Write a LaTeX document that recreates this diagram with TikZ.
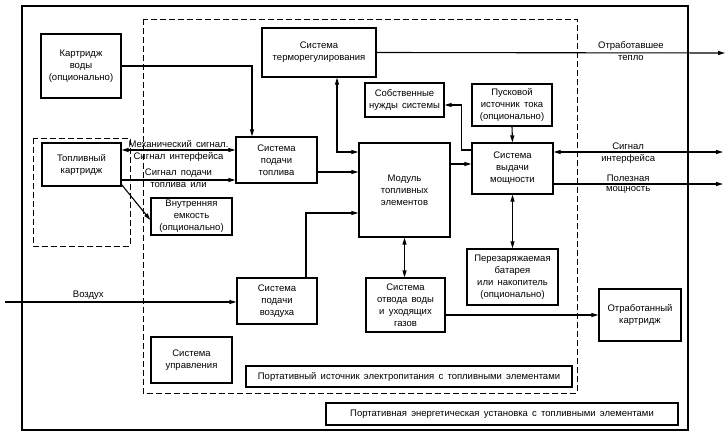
\documentclass[tikz,border=0pt]{standalone}
\usepackage{fontspec}
\setmainfont[WordSpace=1.6]{Liberation Sans}
\usetikzlibrary{arrows.meta}

\begin{document}
\begin{tikzpicture}[x=1pt, y=-1pt,
    every node/.style={font=\fontsize{9.5}{12}\selectfont},
    blk/.style={draw, line width=1.3pt, align=center, inner sep=0pt},
    lbl/.style={inner sep=2pt},
    arr/.style={line width=1.1pt, -{Triangle[length=7pt,width=4pt]}},
    dbl/.style={line width=1.1pt, {Triangle[length=7pt,width=4pt]}-{Triangle[length=7pt,width=4pt]}},
    frame/.style={line width=0.8pt, dash pattern=on 6pt off 3pt}]
    \useasboundingbox (0,0) rectangle (727,436);
    \draw[line width=1.3pt] (22,6) rectangle (688,430);
    \draw[frame] (143,19) rectangle (577,393);
    \draw[frame] (33,138) rectangle (130,246);

    \node[blk, minimum width=80pt, minimum height=64pt] (wcart) at (81,66) {Картридж\\воды\\(опционально)};
    \node[blk, minimum width=79pt, minimum height=43pt] (fcart) at (81.5,164.5) {Топливный\\картридж};
    \node[blk, minimum width=81pt, minimum height=46pt] (fsup) at (276.5,160) {Система\\подачи\\топлива};
    \node[blk, minimum width=81pt, minimum height=37pt] (icap) at (191.5,216.5) {Внутренняя\\емкость\\(опционально)};
    \node[blk, minimum width=114pt, minimum height=49pt] (thermo) at (319,52.5) {Система\\терморегулирования};
    \node[blk, minimum width=79pt, minimum height=34pt] (needs) at (404.5,100) {Собственные\\нужды системы};
    \node[blk, minimum width=80pt, minimum height=42pt] (start) at (512,105) {Пусковой\\источник тока\\(опционально)};
    \node[blk, minimum width=81pt, minimum height=51pt] (pout) at (512.5,168.5) {Система\\выдачи\\мощности};
    \node[blk, minimum width=91pt, minimum height=94pt] (fcm) at (404.5,190) {Модуль\\топливных\\элементов};
    \node[blk, minimum width=91pt, minimum height=56pt] (bat) at (512.5,277) {Перезаряжаемая\\батарея\\или накопитель\\(опционально)};
    \node[blk, minimum width=79pt, minimum height=54pt] (wex) at (405.5,305) {Система\\отвода воды\\и уходящих\\газов};
    \node[blk, minimum width=82pt, minimum height=52pt] (spent) at (640,315) {Отработанный\\картридж};
    \node[blk, minimum width=80pt, minimum height=46pt] (asup) at (277,301) {Система\\подачи\\воздуха};
    \node[blk, minimum width=81pt, minimum height=46pt] (ctrl) at (191.5,360) {Система\\управления};
    \node[blk, minimum width=326pt, minimum height=21pt] (psrc) at (409,376.5) {Портативный источник электропитания с топливными элементами};
    \node[blk, minimum width=352pt, minimum height=22pt] (pplant) at (502,414) {Портативная энергетическая установка с топливными элементами};

    \coordinate (airin) at (5,302);
    \coordinate (heatout) at (725,53);
    \coordinate (sigout) at (723,152);
    \coordinate (pwrout) at (723,184);

    \draw[arr] (wcart.east) -| ([xshift=-24.5pt]fsup.north);
    \draw[dbl] ([yshift=14.5pt]fcart.east) -- ([yshift=14.5pt]fcart.east -| fsup.west)
        node[lbl, midway, above] {Механический сигнал.}
        node[lbl, midway, below] {Сигнал интерфейса};
    \draw[arr] ([yshift=-15.5pt]fcart.east) -- ([yshift=-15.5pt]fcart.east -| fsup.west)
        node[lbl, midway, above] {Сигнал подачи}
        node[lbl, midway, below] {топлива или};
    \draw[arr] ([yshift=2pt]fcart.south east) -- ([yshift=-3.5pt]icap.west);
    \draw[arr] (thermo.east) -- (heatout)
        node[lbl, pos=0.73, above] {Отработавшее}
        node[lbl, pos=0.73, below] {тепло};
    \draw[dbl] ([xshift=18pt]thermo.south) |- ([yshift=38pt]fcm.west);
    \draw[arr] ([yshift=-12pt]fsup.east) -- ([yshift=-12pt]fsup.east -| fcm.west);
    \draw[arr] ([xshift=29pt]asup.north) |- ([yshift=-23pt]fcm.west);
    \draw[arr] ([yshift=26pt]fcm.east) -- ([yshift=26pt]fcm.east -| pout.west);
    \draw[arr] ([yshift=18.5pt]pout.west) -- ++(-10pt,0) |- ([yshift=-5pt]needs.east);
    \draw[arr] (start.south) -- (pout.north);
    \draw[dbl] (pout.south) -- (bat.north);
    \draw[dbl] (fcm.south) -- (fcm.south |- wex.north);
    \draw[arr] ([yshift=-10pt]wex.east) -- (spent.west);
    \draw[arr] (airin) -- (airin -| asup.west)
        node[lbl, pos=0.36, above] {Воздух};
    \draw[dbl] ([yshift=16.5pt]pout.east) -- (sigout)
        node[lbl, pos=0.44, above] {Сигнал}
        node[lbl, pos=0.44, below] {интерфейса};
    \draw[arr] ([yshift=-15.5pt]pout.east) -- (pwrout)
        node[lbl, pos=0.44, above] {Полезная}
        node[lbl, pos=0.44, below] {мощность};
\end{tikzpicture}
\end{document}
